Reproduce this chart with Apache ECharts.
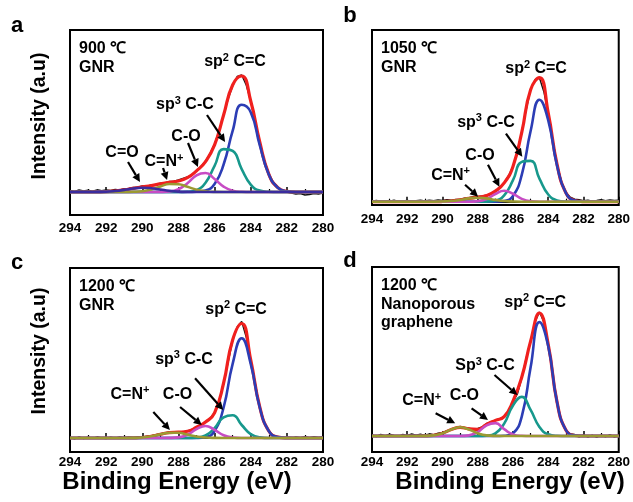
<!DOCTYPE html>
<html>
<head>
<meta charset="utf-8">
<script src="https://cdn.jsdelivr.net/npm/echarts@6.0.0/dist/echarts.min.js"></script>
<style>
  html, body { margin: 0; padding: 0; background: #fff; }
  #main { width: 633px; height: 502px; }
</style>
</head>
<body>
<div id="main"></div>
<script>
// binding energy grid for the fitted curves (eV)
const energy = [294, 293.5, 293, 292.5, 292, 291.5, 291, 290.5, 290, 289.5, 289, 288.5, 288, 287.5, 287,
  286.5, 286, 285.5, 285, 284.5, 284, 283.5, 283, 282.5, 282, 281.5, 281, 280.5, 280]
// binding energy grid for the measured spectrum (eV)
const energyRaw = [294, 293.75, 293.5, 293.25, 293, 292.75, 292.5, 292.25, 292, 291.75, 291.5, 291.25,
  291, 290.75, 290.5, 290.25, 290, 289.75, 289.5, 289.25, 289, 288.75, 288.5, 288.25, 288, 287.75,
  287.5, 287.25, 287, 286.75, 286.5, 286.25, 286, 285.75, 285.5, 285.25, 285, 284.75, 284.5, 284.25,
  284, 283.75, 283.5, 283.25, 283, 282.75, 282.5, 282.25, 282, 281.75, 281.5, 281.25, 281, 280.75,
  280.5, 280.25, 280]

// a : 900 ℃ GNR
const rawA = [1.5, 0.5, 2.0, 1.0, 1.8, 0.8, 2.2, 1.2, 2.0, 1.5, 2.5, 2.0, 3.2, 3.5, 4.5, 4.8, 6.0, 5.8, 7.2, 7.5,
  8.8, 9.0, 10.5, 10.8, 12.0, 13.5, 15.0, 17.5, 21.5, 25.5, 31.0, 38.5, 48.0, 61.0, 77.0, 93.0, 106.0, 115.5,
  117.0, 107.0, 91.0, 70.0, 50.0, 32.0, 18.5, 10.0, 4.5, 1.5, 0.0, -1.0, -2.0, -1.5, -3.0, -2.5, -1.5, -2.0, -1.0]
const fitA = [0, 0, 0, 0.1, 0.3, 1.0, 2.1, 3.7, 5.1, 6.4, 8.1, 9.7, 11.0, 14.3, 21.1, 30.4, 47.1, 77.0, 107.0,
  116.0, 91.0, 50.0, 17.8, 4.3, 0.7, 0, 0, 0, 0]
const sp2A = [0, 0, 0, 0, 0, 0, 0, 0, 0, 0, 0, 0, 0, 0, 0.2, 1.5, 7.9, 27.5, 61.1, 87.2, 79.8, 46.8, 17.6, 4.3, 0.7, 0, 0, 0, 0]
const sp3A = [0, 0, 0, 0, 0, 0, 0, 0, 0, 0, 0, 0, 0, 0.2, 1.9, 9.2, 26.1, 42.9, 41.1, 22.9, 7.4, 1.4, 0.2, 0, 0, 0, 0, 0, 0]
const coA = [0, 0, 0, 0, 0, 0, 0, 0, 0, 0, 0.1, 0.5, 2.8, 8.8, 16.7, 19.0, 13.0, 5.4, 1.3, 0.2, 0, 0, 0, 0, 0, 0, 0, 0, 0]
const cnA = [0, 0, 0, 0, 0, 0, 0, 0.2, 0.8, 2.6, 5.5, 8.0, 7.8, 5.2, 2.3, 0.7, 0.1, 0, 0, 0, 0, 0, 0, 0, 0, 0, 0, 0, 0]
const ccoA = [0, 0, 0, 0.1, 0.3, 1.0, 2.1, 3.5, 4.3, 3.8, 2.5, 1.2, 0.4, 0.1, 0, 0, 0, 0, 0, 0, 0, 0, 0, 0, 0, 0, 0, 0, 0]

// b : 1050 ℃ GNR
const rawB = [0.5, 1.2, 0.2, 1.0, 0.6, 1.4, 0.3, 0.8, 1.2, 0.4, 1.0, 1.5, 0.8, 1.6, 1.0, 1.8, 1.2, 2.0, 1.5, 2.2,
  2.5, 3.5, 4.0, 5.0, 5.2, 5.8, 6.5, 8.0, 10.5, 14.0, 19.0, 26.0, 35.5, 51.0, 70.0, 92.0, 112.0, 122.0,
  124.0, 110.0, 88.0, 62.0, 38.0, 20.0, 9.5, 4.5, 2.5, 2.0, 1.0, 1.5, 0.5, 1.2, 2.0, 1.0, 1.8, 1.2, 1.5]
const fitB = [0, 0, 0, 0, 0, 0, 0, 0, 0.2, 0.7, 1.8, 3.3, 4.5, 6.1, 10.6, 18.8, 35.3, 69.6, 112.0, 124.0, 88.6,
  37.3, 8.9, 1.2, 0.1, 0, 0, 0, 0]
const sp2B = [0, 0, 0, 0, 0, 0, 0, 0, 0, 0, 0, 0, 0, 0, 0, 0.7, 5.7, 27.0, 70.7, 102.0, 81.4, 36.0, 8.8, 1.2, 0.1, 0, 0, 0, 0]
const sp3B = [0, 0, 0, 0, 0, 0, 0, 0, 0, 0, 0, 0, 0, 0.1, 1.1, 6.4, 21.5, 39.8, 40.8, 23.1, 7.2, 1.3, 0.1, 0, 0, 0, 0, 0, 0]
const coB = [0, 0, 0, 0, 0, 0, 0, 0, 0, 0, 0, 0, 0.5, 2.7, 7.7, 11.0, 7.9, 2.8, 0.5, 0, 0, 0, 0, 0, 0, 0, 0, 0, 0]
const cnB = [0, 0, 0, 0, 0, 0, 0, 0, 0.2, 0.7, 1.8, 3.3, 4.0, 3.3, 1.8, 0.7, 0.2, 0, 0, 0, 0, 0, 0, 0, 0, 0, 0, 0, 0]

// c : 1200 ℃ GNR
const rawC = [0.5, -0.8, 1.0, -0.5, 0.8, -0.3, 1.2, 0.0, -0.6, 0.9, -0.2, 1.1, 0.3, 1.0, 0.6, 1.2, 1.0, 1.8, 2.2, 3.4,
  4.2, 5.0, 6.0, 5.8, 6.4, 6.0, 7.2, 8.5, 10.8, 12.5, 16.0, 19.5, 25.5, 37.0, 54.0, 76.0, 97.5, 111.0,
  116.5, 101.0, 78.0, 54.0, 31.0, 15.5, 7.0, 2.5, 1.0, 0.2, 0.6, -0.4, 1.0, 0.3, 1.2, 0.4, 1.3, 0.6, 1.0]
const fitC = [0, 0, 0, 0, 0, 0, 0, 0.1, 0.5, 1.7, 3.7, 5.4, 5.8, 6.7, 10.7, 15.9, 25.1, 55.0, 98.0, 114.5, 78.1,
  31.1, 7.0, 0.9, 0.1, 0, 0, 0, 0]
const sp2C = [0, 0, 0, 0, 0, 0, 0, 0, 0, 0, 0, 0, 0, 0, 0.1, 0.9, 7.0, 30.5, 74.2, 99.7, 74.2, 30.5, 7.0, 0.9, 0.1, 0, 0, 0, 0]
const sp3C = [0, 0, 0, 0, 0, 0, 0, 0, 0, 0, 0, 0, 0, 0, 0.3, 2.5, 9.9, 20.7, 22.7, 13.0, 3.9, 0.6, 0, 0, 0, 0, 0, 0, 0]
const coC = [0, 0, 0, 0, 0, 0, 0, 0, 0, 0, 0, 0.1, 0.6, 3.3, 8.8, 12.0, 8.1, 2.7, 0.5, 0, 0, 0, 0, 0, 0, 0, 0, 0, 0]
const cnC = [0, 0, 0, 0, 0, 0, 0, 0.1, 0.5, 1.7, 3.7, 5.3, 5.2, 3.4, 1.5, 0.5, 0.1, 0, 0, 0, 0, 0, 0, 0, 0, 0, 0, 0, 0]

// d : 1200 ℃ nanoporous graphene
const rawD = [1.0, -0.5, 1.5, 0.2, 1.8, 0.5, -0.3, 1.6, 0.4, 2.0, 0.8, 1.8, 0.5, 2.2, 1.4, 2.8, 3.5, 5.0, 6.8, 8.0,
  9.5, 8.4, 7.8, 6.5, 7.5, 9.0, 12.5, 14.0, 15.5, 17.0, 19.0, 24.0, 34.0, 42.0, 58.0, 78.0, 95.0, 114.0,
  124.0, 114.0, 91.0, 62.0, 33.0, 15.0, 6.0, 2.0, 1.5, -0.8, 1.2, -1.0, 0.8, -1.5, 1.0, -0.8, 1.5, -1.2, 0.5]
const fitD = [0, 0, 0, 0, 0, 0, 0.1, 0.6, 2.7, 6.5, 8.7, 7.1, 6.6, 11.6, 15.6, 19.4, 34.8, 59.0, 94.8, 123.0, 91.5,
  33.9, 6.0, 0.5, 0, 0, 0, 0, 0]
const sp2D = [0, 0, 0, 0, 0, 0, 0, 0, 0, 0, 0, 0, 0, 0, 0, 0.2, 2.7, 19.7, 68.7, 113.9, 89.8, 33.7, 6.0, 0.5, 0, 0, 0, 0, 0]
const sp3D = [0, 0, 0, 0, 0, 0, 0, 0, 0, 0, 0, 0, 0, 0.3, 2.6, 12.4, 30.5, 39.1, 26.1, 9.1, 1.7, 0.2, 0, 0, 0, 0, 0, 0, 0]
const coD = [0, 0, 0, 0, 0, 0, 0, 0, 0, 0, 0, 0.6, 3.9, 10.7, 12.9, 6.8, 1.6, 0.2, 0, 0, 0, 0, 0, 0, 0, 0, 0, 0, 0]
const cnD = [0, 0, 0, 0, 0, 0, 0.1, 0.6, 2.7, 6.5, 8.7, 6.5, 2.7, 0.6, 0.1, 0, 0, 0, 0, 0, 0, 0, 0, 0, 0, 0, 0, 0, 0]

// peak labels: [text, labelE, labelY, arrowFromE, arrowFromY, arrowToE, arrowToY]
const notesA = [
  ['sp² C=C', 284.87, 131],
  ['sp³ C-C', 287.64, 88, 286.42, 77, 285.42, 50],
  ['C-O', 287.58, 56, 287.47, 49, 286.92, 25],
  ['C=N⁺', 288.8, 31, 288.85, 24, 288.63, 12],
  ['C=O', 291.12, 40, 290.79, 30, 290.13, 10]
]
const notesB = [
  ['sp² C=C', 284.69, 133.7],
  ['sp³ C-C', 287.53, 80, 286.4, 68, 285.47, 45],
  ['C-O', 287.87, 47, 287.42, 37, 286.77, 15],
  ['C=N⁺', 289.54, 27, 288.72, 17, 287.98, 5]
]
const notesC = [
  ['sp² C=C', 284.81, 129.5],
  ['sp³ C-C', 287.69, 79.5, 287.08, 59.7, 285.52, 28],
  ['C-O', 288.05, 44.5, 287.91, 31, 286.71, 13],
  ['C=N⁺', 290.68, 44.5, 289.39, 26, 288.47, 8]
]
const notesD = [
  ['sp² C=C', 284.74, 134.5],
  ['Sp³ C-C', 287.59, 71, 287.05, 61, 285.75, 41],
  ['C-O', 288.76, 41.5, 288.35, 27.7, 287.42, 16],
  ['C=N⁺', 291.18, 36, 290.39, 22.7, 289.28, 12.7]
]

const insetA = ['900 ℃', 'GNR']
const insetB = ['1050 ℃', 'GNR']
const insetC = ['1200 ℃', 'GNR']
const insetD = ['1200 ℃', 'Nanoporous', 'graphene']

const RED = '#f0201e', BLUE = '#2c3db5', TEAL = '#17988c', MAG = '#c74cc4', OLIVE = '#9b9a32', NAVY = '#3b2c9e'
const FONT = '"Liberation Sans", Arial, Helvetica, sans-serif'

// panel layout
const panels = [
  { grid: { left: 70, top: 30, width: 253, height: 185 }, y: [-23, 162], margin: 6, letter: 'a', lp: [17, 26],
    raw: rawA, fit: fitA, comps: [[sp2A, BLUE], [sp3A, TEAL], [coA, MAG], [cnA, OLIVE], [ccoA, NAVY]],
    notes: notesA, inset: insetA },
  { grid: { left: 372, top: 30, width: 251, height: 175 }, y: [-3.3, 171.7], margin: 7, letter: 'b', lp: [350, 16],
    raw: rawB, fit: fitB, comps: [[sp2B, BLUE], [sp3B, TEAL], [coB, MAG], [cnB, OLIVE]],
    notes: notesB, inset: insetB },
  { grid: { left: 70, top: 268, width: 253, height: 184 }, y: [-14, 170], margin: 3, letter: 'c', lp: [17, 263],
    raw: rawC, fit: fitC, comps: [[sp2C, BLUE], [sp3C, TEAL], [coC, MAG], [cnC, OLIVE]],
    notes: notesC, inset: insetC },
  { grid: { left: 372, top: 267, width: 251, height: 185 }, y: [-16, 169], margin: 3, letter: 'd', lp: [350, 261],
    raw: rawD, fit: fitD, comps: [[sp2D, BLUE], [sp3D, TEAL], [coD, MAG], [cnD, OLIVE]],
    notes: notesD, inset: insetD }
]

const grids = [], xAxes = [], yAxes = [], series = []
panels.forEach((p, i) => {
  grids.push(Object.assign({ show: true, borderColor: '#000', borderWidth: 2 }, p.grid))
  xAxes.push({
    gridIndex: i, type: 'value', min: 280, max: 294, interval: 2, inverse: true,
    axisLine: { show: true, lineStyle: { color: '#000', width: 2 } },
    axisTick: { show: true, inside: true, length: 5, lineStyle: { color: '#000', width: 1.5 } },
    minorTick: { show: true, splitNumber: 2, length: 3, lineStyle: { color: '#000', width: 1.2 } },
    splitLine: { show: false },
    axisLabel: { margin: p.margin, color: '#000', fontSize: 13.5, fontWeight: 'bold', fontFamily: FONT }
  })
  yAxes.push({ gridIndex: i, type: 'value', min: p.y[0], max: p.y[1], show: false, splitLine: { show: false } })

  // measured spectrum
  series.push({
    type: 'line', xAxisIndex: i, yAxisIndex: i, showSymbol: false, silent: true,
    data: energyRaw.map((e, k) => [e, p.raw[k]]),
    lineStyle: { color: '#111', width: 1.4 }
  })
  // fitted envelope
  series.push({
    type: 'line', xAxisIndex: i, yAxisIndex: i, showSymbol: false, silent: true, smooth: true,
    data: energy.map((e, k) => [e, p.fit[k]]),
    lineStyle: { color: RED, width: 3.2 }
  })
  // fitted components
  p.comps.forEach(([arr, color]) => {
    series.push({
      type: 'line', xAxisIndex: i, yAxisIndex: i, showSymbol: false, silent: true, smooth: true,
      data: energy.map((e, k) => [e, arr[k]]),
      lineStyle: { color, width: 2.6 }
    })
  })
})

const chart = echarts.init(document.getElementById('main'))
chart.setOption({
  backgroundColor: '#fff',
  animation: false,
  grid: grids,
  xAxis: xAxes,
  yAxis: yAxes,
  series
})

// superscript characters become small raised rich-text pieces
function richText(str) {
  const sup = { '²': '2', '³': '3', '⁺': '+' }
  let out = '', buf = ''
  for (const ch of str) {
    if (sup[ch]) {
      if (buf) out += '{n|' + buf + '}'
      out += '{s|' + sup[ch] + '}'
      buf = ''
    } else buf += ch
  }
  if (buf) out += '{n|' + buf + '}'
  return out
}

function text(x, y, str, size, align) {
  return {
    type: 'text', x, y, z: 100,
    style: { text: str, fill: '#000', fontSize: size, fontWeight: 'bold', fontFamily: FONT,
      align: align || 'center', verticalAlign: 'middle' }
  }
}

function peakText(x, y, str) {
  return {
    type: 'text', x, y, z: 100,
    style: {
      text: richText(str), align: 'center', verticalAlign: 'middle',
      rich: {
        n: { fontSize: 16, fontWeight: 'bold', fontFamily: FONT, fill: '#000', lineHeight: 18, verticalAlign: 'bottom' },
        s: { fontSize: 11, fontWeight: 'bold', fontFamily: FONT, fill: '#000', lineHeight: 18, verticalAlign: 'top' }
      }
    }
  }
}

function arrow(a, b) {
  const dx = b[0] - a[0], dy = b[1] - a[1]
  const len = Math.hypot(dx, dy)
  const ux = dx / len, uy = dy / len
  const hl = 8, hw = 4
  const bx = b[0] - ux * hl, by = b[1] - uy * hl
  return [
    { type: 'line', z: 100, shape: { x1: a[0], y1: a[1], x2: bx, y2: by }, style: { stroke: '#000', lineWidth: 2.2 } },
    { type: 'polygon', z: 100, shape: { points: [[b[0], b[1]], [bx - uy * hw, by + ux * hw], [bx + uy * hw, by - ux * hw]] },
      style: { fill: '#000' } }
  ]
}

// annotations placed in data space of each panel
const graphic = []
panels.forEach((p, i) => {
  const toPx = (e, v) => chart.convertToPixel({ gridIndex: i }, [e, v])
  graphic.push(text(p.lp[0], p.lp[1], p.letter, 22, 'center'))
  p.inset.forEach((s, k) => {
    graphic.push(text(p.grid.left + 9, p.grid.top + 19 + k * 18.5, s, 16, 'left'))
  })
  p.notes.forEach(n => {
    const c = toPx(n[1], n[2])
    graphic.push(peakText(c[0], c[1], n[0]))
    if (n.length > 3) {
      arrow(toPx(n[3], n[4]), toPx(n[5], n[6])).forEach(g => graphic.push(g))
    }
  })
})
graphic.push(Object.assign(text(40, 116, 'Intensity (a.u)', 19.5), { rotation: Math.PI / 2 }))
graphic.push(Object.assign(text(40, 351, 'Intensity (a.u)', 19.5), { rotation: Math.PI / 2 }))
graphic.push(text(177, 482, 'Binding Energy (eV)', 24))
graphic.push(text(510, 482, 'Binding Energy (eV)', 24))

chart.setOption({ graphic })
</script>
</body>
</html>
